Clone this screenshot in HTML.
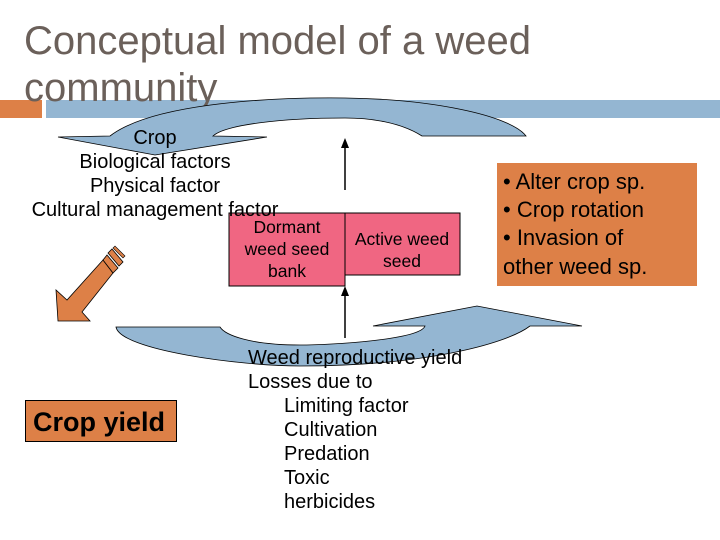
<!DOCTYPE html>
<html><head><style>
body{margin:0;background:#fff;}
svg{display:block;font-family:"Liberation Sans",Arial,sans-serif;}
</style></head><body>
<svg width="720" height="540" viewBox="0 0 720 540">
<rect x="0" y="100" width="42" height="18" fill="#dd8047"/>
<rect x="46" y="100" width="674" height="18" fill="#94b6d2"/>
<text x="24" y="54" font-size="40" fill="#6b605a">Conceptual model of a weed</text>
<text x="24" y="101" font-size="40" fill="#6b605a">community</text>
<!-- top curved arrow -->
<path d="M110,136 C150,105 260,97 345,98 C430,99 510,115 526,136 L422,136 C400,122 370,118 345,118 C280,118 225,125 213,136 L267,137 L155,155 L58,137 Z" fill="#94b6d2" stroke="#000" stroke-width="0.8"/>
<!-- bottom curved arrow -->
<path d="M116,327 C120,350 240,366 300,366 C420,366 505,345 530,326 L582,326 L477,306 L373,326 L425,326 C420,340 330,345 300,345 C250,345 225,335 220,327 Z" fill="#94b6d2" stroke="#000" stroke-width="0.8"/>
<!-- orange arrow -->
<polygon points="58,321 56,290 67,300 103,260 113,273 82,312 90,321" fill="#dd8047" stroke="#000" stroke-width="0.8"/>
<polygon points="103,260 107,255 118,268 113,273" fill="#dd8047" stroke="#000" stroke-width="0.8"/>
<polygon points="108,253 112,249 123,262 119,266" fill="#dd8047" stroke="#000" stroke-width="0.8"/>
<polygon points="113,248 115,246 125,256 123,258" fill="#dd8047" stroke="#000" stroke-width="0.6"/>
<!-- boxes -->
<rect x="229" y="213" width="116" height="73" fill="#f06682" stroke="#000" stroke-width="1"/>
<rect x="345" y="213" width="115" height="62" fill="#f06682" stroke="#000" stroke-width="1"/>
<rect x="497" y="163" width="200" height="123" fill="#dd8047"/>
<rect x="25.5" y="400.5" width="151" height="41" fill="#dd8047" stroke="#000" stroke-width="1"/>
<!-- vertical arrows -->
<line x1="345" y1="190" x2="345" y2="146" stroke="#000" stroke-width="1.5"/>
<polygon points="345,138 341,148 349,148" fill="#000"/>
<line x1="345" y1="338" x2="345" y2="294" stroke="#000" stroke-width="1.5"/>
<polygon points="345,286 341,296 349,296" fill="#000"/>
<!-- text -->
<g font-size="20" fill="#000" text-anchor="middle">
<text x="155" y="144">Crop</text>
<text x="155" y="168">Biological factors</text>
<text x="155" y="192">Physical factor</text>
<text x="155" y="216">Cultural management factor</text>
</g>
<g font-size="17.5" fill="#000" text-anchor="middle">
<text x="287" y="233">Dormant</text>
<text x="287" y="255">weed seed</text>
<text x="287" y="277">bank</text>
<text x="402" y="245">Active weed</text>
<text x="402" y="267">seed</text>
</g>
<g font-size="22" fill="#000">
<text x="503" y="189">• Alter crop sp.</text>
<text x="503" y="217">• Crop rotation</text>
<text x="503" y="245">• Invasion of</text>
<text x="503" y="274">other weed sp.</text>
</g>
<text x="33" y="431" font-size="27" font-weight="bold" fill="#000">Crop yield</text>
<g font-size="20" fill="#000">
<text x="248" y="364">Weed reproductive yield</text>
<text x="248" y="388">Losses due to</text>
<text x="284" y="412">Limiting factor</text>
<text x="284" y="436">Cultivation</text>
<text x="284" y="460">Predation</text>
<text x="284" y="484">Toxic</text>
<text x="284" y="508">herbicides</text>
</g>
</svg>
</body></html>
